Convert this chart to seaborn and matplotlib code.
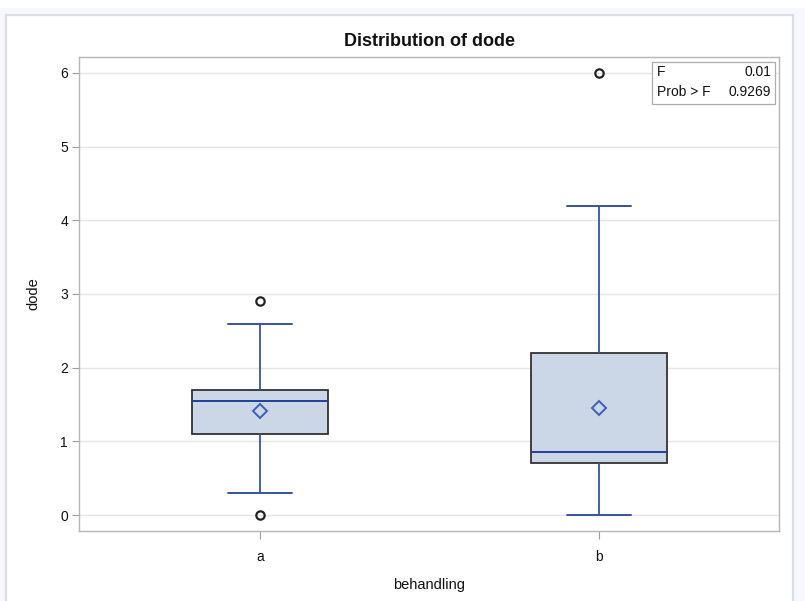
import matplotlib
matplotlib.use("Agg")
import matplotlib.pyplot as plt
from matplotlib.patches import Rectangle
import numpy as np
import pandas as pd
import seaborn as sns

# Observations per treatment group
group_a = [0, 0.3, 0.6, 1.1, 1.15, 1.4, 1.55, 1.6, 1.65, 1.7, 1.9, 2.59, 2.9]
group_b = [0, 0, 0.3, 0.5, 0.7, 0.75, 0.8, 0.8, 0.85, 0.9, 0.9, 1.0,
           2.2, 2.2, 2.6, 4.2, 6.0]
categories = ["a", "b"]
y_ticks = [0, 1, 2, 3, 4, 5, 6]

# ANOVA summary shown in the inset
f_value = "0.01"
prob_f = "0.9269"

df = pd.DataFrame({
    "behandling": ["a"] * len(group_a) + ["b"] * len(group_b),
    "dode": group_a + group_b,
})

sns.set_theme(style="white")
plt.rcParams["font.family"] = ["Liberation Sans", "DejaVu Sans"]

fig = plt.figure(figsize=(8.05, 6.01), dpi=100)
fig.patch.set_facecolor("#f7f8fd")
# white page frame
fig.patches.append(Rectangle((0, 1 - 8 / 601), 1, 8 / 601, transform=fig.transFigure,
                             facecolor="white", edgecolor="none", zorder=-3))
fig.patches.append(Rectangle((6 / 805, -0.02), 787 / 805, 1 - 15 / 601 + 0.02,
                             transform=fig.transFigure, facecolor="white",
                             edgecolor="#dcdde0", linewidth=1.6, zorder=-2))

ax = fig.add_axes([79 / 805, 1 - 531 / 601, 700 / 805, 474 / 601])
ax.set_facecolor("white")

blue = "#3553a8"
sns.boxplot(
    data=df, x="behandling", y="dode", order=categories, ax=ax,
    color="#cbd6e6", saturation=1, width=0.404, whis=1.5,
    linewidth=1.3, linecolor="#333333",
    showmeans=True,
    boxprops=dict(edgecolor="#333333", linewidth=1.3),
    medianprops=dict(color="#1f3f9a", linewidth=1.4),
    whiskerprops=dict(color=blue, linewidth=1.3),
    capprops=dict(color=blue, linewidth=1.4),
    meanprops=dict(marker="D", markerfacecolor="none", markeredgecolor="#3a5fba",
                   markeredgewidth=1.4, markersize=7.5),
    flierprops=dict(marker="o", markerfacecolor="none", markeredgecolor="#222222",
                    markeredgewidth=1.6, markersize=6),
)

# narrower whisker caps
cont = ax.containers[0]
for cap in cont.caps:
    xd = np.asarray(cap.get_xdata(), dtype=float)
    c = xd.mean()
    cap.set_xdata([c - 0.093, c + 0.093])

ax.set_xlim(-0.534, 1.531)
ax.set_ylim(-0.217, 6.217)
ax.set_yticks(y_ticks)
ax.set_yticklabels([str(v) for v in y_ticks])
ax.yaxis.grid(True, color="#e4e5e8", linewidth=1.0)
ax.set_axisbelow(True)

for s in ax.spines.values():
    s.set_color("#b3b7bc")
    s.set_linewidth(1.0)

ax.tick_params(axis="both", which="both", length=5, width=0.8, color="#9a9ea3",
               labelsize=10, labelcolor="#111111", pad=3, left=True, bottom=True)
ax.tick_params(axis="x", length=6, pad=8)

ax.set_xlabel("behandling", fontsize=10.5, color="#111111", labelpad=10)
ax.set_ylabel("dode", fontsize=10.5, color="#111111", labelpad=14)
ax.set_title("Distribution of dode", fontsize=13, fontweight="bold",
             color="#111111", pad=8)

# ANOVA inset
x0, x1 = (652 - 79) / 700, (775 - 79) / 700
y0, y1 = (531 - 104) / 474, (531 - 62) / 474
ax.add_patch(Rectangle((x0, y0), x1 - x0, y1 - y0, transform=ax.transAxes,
                       facecolor="white", edgecolor="#a9adb2", linewidth=0.9,
                       zorder=5))
row1 = (531 - 72) / 474
row2 = (531 - 92) / 474
tx_l = (657 - 79) / 700
tx_r = (771 - 79) / 700
for ypos, lab, val in [(row1, "F", f_value), (row2, "Prob > F", prob_f)]:
    ax.text(tx_l, ypos, lab, transform=ax.transAxes, ha="left", va="center",
            fontsize=10, color="#111111", zorder=6)
    ax.text(tx_r, ypos, val, transform=ax.transAxes, ha="right", va="center",
            fontsize=10, color="#111111", zorder=6)

fig.savefig("out.png", dpi=100, facecolor=fig.get_facecolor())
